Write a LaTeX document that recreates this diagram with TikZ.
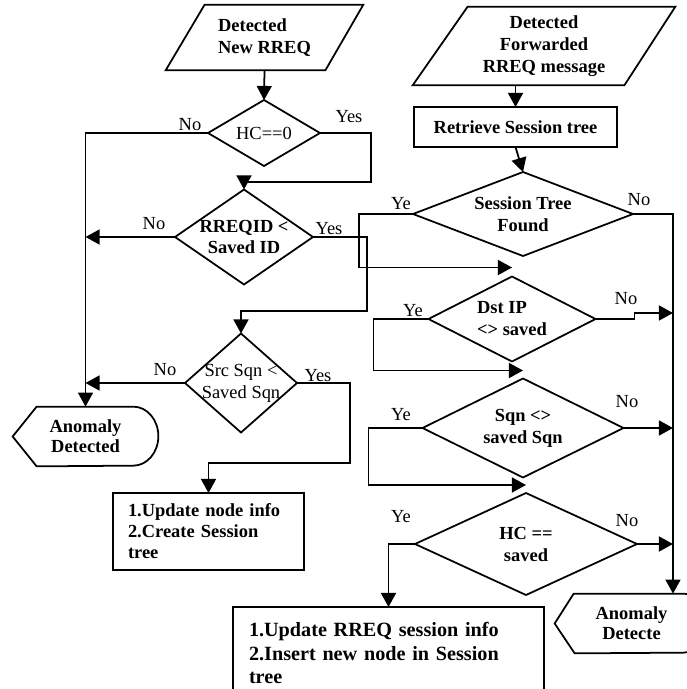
\documentclass[tikz,border=0pt]{standalone}
\usepackage{fontspec}
\setmainfont{Liberation Serif}
\usetikzlibrary{calc,shapes.geometric,arrows.meta}

\newcommand\pxu{0.02cm}
\tikzset{
    ln/.style={line width=1pt},
    arr/.style={line width=1pt, -{Triangle[length=8pt,width=8.5pt]}},
    dia/.style={diamond, draw, line width=1pt, inner sep=0pt, outer sep=0pt},
    box/.style={rectangle, draw, line width=1pt, outer sep=0pt, align=left, font=\fontsize{10.5}{12}\selectfont\bfseries},
    txt/.style={align=center, font=\fontsize{10.5}{12.5}\selectfont\bfseries},
    rtxt/.style={align=center, font=\fontsize{10.5}{12.5}\selectfont},
    lab/.style={inner sep=0pt, font=\fontsize{10.5}{12}\selectfont},
}

\begin{document}
\begin{tikzpicture}[x=\pxu, y=-\pxu]
        \useasboundingbox (0,0) rectangle (686,689);
        \node[txt, align=left, minimum width=197*\pxu, minimum height=65*\pxu] (newrreq) at (264.5,37.5) {Detected\\New RREQ};
        \draw[ln] (newrreq.south west) -- ($(newrreq.north west)+(39,0)$) -- (newrreq.north east) -- ($(newrreq.south east)+(-38,0)$) -- cycle;
        \node[txt, minimum width=262*\pxu, minimum height=78*\pxu] (fwd) at (544,46) {Detected\\Forwarded\\RREQ message};
        \draw[ln] (fwd.south west) -- ($(fwd.north west)+(55,0)$) -- (fwd.north east) -- ($(fwd.south east)+(-51,0)$) -- cycle;

        \node[dia, minimum width=112*\pxu, minimum height=66*\pxu, label={[rtxt]center:HC==0}] (hc) at (264,133) {};
        \node[dia, minimum width=138*\pxu, minimum height=95*\pxu, label={[txt]center:{RREQID <\\Saved ID}}] (rreqid) at (244,237) {};
        \node[dia, minimum width=112*\pxu, minimum height=99*\pxu, label={[rtxt]center:{Src Sqn <\\Saved Sqn}}] (srcsqn) at (241,383) {};
        \node[dia, minimum width=220*\pxu, minimum height=84*\pxu, label={[txt]center:{Session Tree\\Found}}] (found) at (523,214) {};
        \node[dia, minimum width=167*\pxu, minimum height=85*\pxu, label={[txt,align=left]center:{Dst IP\\<> saved}}] (dstip) at (512,319) {};
        \node[dia, minimum width=201*\pxu, minimum height=99*\pxu, label={[txt]center:{Sqn <>\\saved Sqn}}] (sqn) at (523,428) {};
        \node[dia, minimum width=222*\pxu, minimum height=102*\pxu, label={[txt]center:{HC ==\\saved}}] (hcsaved) at (526,544) {};

        \node[box, align=center, minimum width=203*\pxu, minimum height=40*\pxu] (retrieve) at (515.5,127) {Retrieve Session tree};
        \node[box, text width=161*\pxu, inner xsep=15*\pxu, minimum height=77*\pxu] (updnode) at (208.5,531.5) {1.Update node info\\2.Create Session\\tree};
        \node[box, text width=279*\pxu, inner xsep=16*\pxu, minimum height=92*\pxu, font=\fontsize{11.5}{13.4}\selectfont\bfseries] (updsession) at (388.5,653) {1.Update RREQ session info\\2.Insert new node in Session\\tree};

        \node[txt, minimum width=145*\pxu, minimum height=59*\pxu, font=\fontsize{10.5}{11.5}\selectfont\bfseries] (anom1) at (85.5,436.5) {Anomaly\\Detected};
        \draw[ln] (anom1.west) -- ($(anom1.north west)+(24,0)$) -- ($(anom1.north east)+(-25,0)$) arc[start angle=-90, end angle=90, x radius=25, y radius=29.5] -- ($(anom1.south west)+(24,0)$) -- cycle;
        \node[txt, minimum width=153*\pxu, minimum height=59*\pxu, font=\fontsize{10.5}{11.5}\selectfont\bfseries] (anom2) at (631.5,623.5) {Anomaly\\Detecte};
        \draw[ln] (anom2.west) -- ($(anom2.north west)+(19,0)$) -- ($(anom2.north east)+(-25,0)$) arc[start angle=-90, end angle=90, x radius=25, y radius=29.5] -- ($(anom2.south west)+(20,0)$) -- cycle;
        \coordinate (rail) at ($(anom2.north)+(41.5,0)$);

        \draw[arr] (newrreq.south) -- (hc.north);
        \draw[arr] (hc.west) -| (anom1.north);
        \draw[arr] (hc.east) -- ++(51,0) -- ++(0,49) -| (rreqid.north);
        \draw[arr] (rreqid.west) -- (rreqid.west -| anom1.north);
        \draw[arr] (rreqid.east) -- ++(54,0) -- ++(0,74) -| (srcsqn.north);
        \draw[arr] (srcsqn.west) -- (srcsqn.west -| anom1.north);
        \draw[arr] (srcsqn.east) -- ++(53,0) -- ++(0,80) -| (updnode.north);

        \draw[arr] (fwd.south -| retrieve.north) -- (retrieve.north);
        \draw[arr] (retrieve.south) -- (found.north);
        \draw[arr] (found.east) -| (rail);
        \draw[arr] (found.west) -- ++(-54,0) |- ($(dstip.north)+(0,-9)$);
        \draw[arr] (dstip.east) -- ++(39,0) -- ++(0,-6) -- ($(dstip.east -| rail)+(0,-6)$);
        \draw[arr] (dstip.west) -- ++(-55,0) |- ($(sqn.north)+(0,-8)$);
        \draw[arr] (sqn.east) -- (sqn.east -| rail);
        \draw[arr] (sqn.west) -- ++(-54,0) |- ($(hcsaved.north)+(0,-8)$);
        \draw[arr] (hcsaved.east) -- (hcsaved.east -| rail);
        \draw[arr] (hcsaved.west) -| (updsession.north);

        \node[lab] (hcno) at (190,125) {No};
        \node[lab] (hcyes) at (349,117) {Yes};
        \node[lab] (rreqidno) at (154,224) {No};
        \node[lab] (rreqidyes) at (329,229) {Yes};
        \node[lab] (srcsqnno) at (165,370) {No};
        \node[lab] (srcsqnyes) at (318,376) {Yes};
        \node[lab] (foundye) at (401,204) {Ye};
        \node[lab] (foundno) at (639,200) {No};
        \node[lab] (dstipye) at (413,311) {Ye};
        \node[lab] (dstipno) at (626,299) {No};
        \node[lab] (sqnye) at (401,415) {Ye};
        \node[lab] (sqnno) at (627,402) {No};
        \node[lab] (hcsavedye) at (401,517) {Ye};
        \node[lab] (hcsavedno) at (627,521) {No};
\end{tikzpicture}
\end{document}
